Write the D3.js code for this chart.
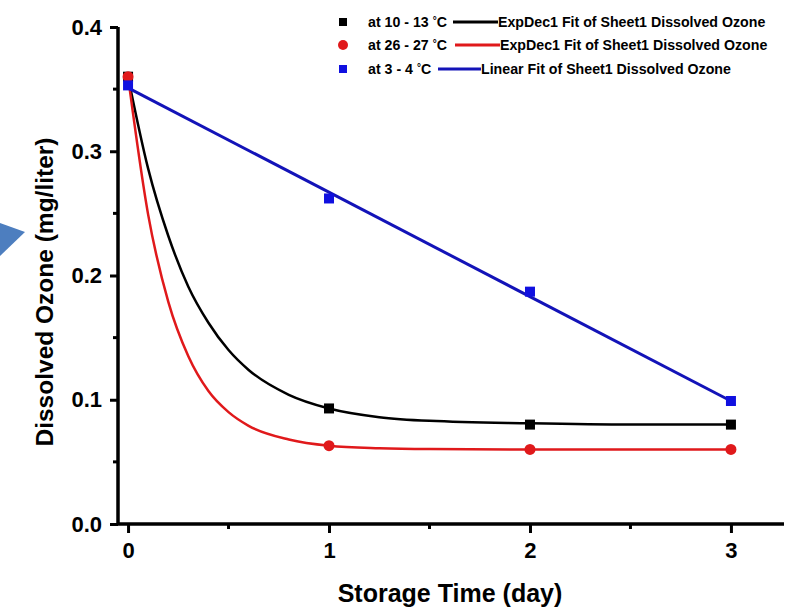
<!DOCTYPE html>
<html lang="en">
<head>
<meta charset="UTF-8">
<title>Dissolved Ozone</title>
<style>
  body { margin: 0; background: #fff; }
  text { font-family: "Liberation Sans", Arial, sans-serif; font-weight: bold; }
</style>
</head>
<body>
<svg></svg>
<script src="https://cdn.jsdelivr.net/npm/d3@7"></script>
<script>
// measured points
var days = [0, 1, 2, 3];
var ozone10to13 = [0.360, 0.093, 0.080, 0.080];
var ozone26to27 = [0.360, 0.063, 0.060, 0.060];
var ozone3to4 = [0.353, 0.262, 0.187, 0.099];

// fitted curves
var fitDays = [0, 0.1, 0.2, 0.3, 0.4, 0.5, 0.6, 0.8, 1.0, 1.25, 1.5, 2.0, 2.5, 3.0];
var fit10to13 = [0.360, 0.286, 0.232, 0.191, 0.162, 0.140, 0.124, 0.104, 0.093, 0.086, 0.083, 0.081, 0.080, 0.080];
var fit26to27 = [0.360, 0.249, 0.179, 0.135, 0.107, 0.090, 0.079, 0.068, 0.063, 0.061, 0.0603, 0.060, 0.060, 0.060];
var linDays = [0, 3];
var fit3to4 = [0.351, 0.099];

var xTicks = [0, 1, 2, 3];
var yTicks = [0.0, 0.1, 0.2, 0.3, 0.4];

var legendLabels = ["at 10 - 13 ", "at 26 - 27 ", "at 3 - 4 "];
var legendFits = ["ExpDec1 Fit of Sheet1 Dissolved Ozone", "ExpDec1 Fit of Sheet1 Dissolved Ozone", "Linear Fit of Sheet1 Dissolved Ozone"];

var width = 795, height = 614;
var svg = d3.select("svg").attr("width", width).attr("height", height);

var x = d3.scaleLinear().domain([-0.05, 3.264]).range([118, 784]);
var y = d3.scaleLinear().domain([0, 0.4]).range([524, 27]);

// blue arrow cut off at the left edge
svg.append("path")
  .attr("d", "M0,223 L25,232 L0,256 Z")
  .attr("fill", "#4d7ebf");

// axes
var xAxis = d3.axisBottom(x).tickValues(xTicks).tickSize(9).tickPadding(9).tickFormat(d3.format("d"));
var gx = svg.append("g").attr("transform", "translate(0,524)").call(xAxis);
gx.select(".domain").attr("d", "M118,0H784").attr("stroke-width", 3.5);
gx.selectAll(".tick line").attr("stroke-width", 3);
gx.selectAll(".tick text").attr("font-size", 22).attr("font-family", null);
gx.selectAll(".minor").data([0.5, 1.5, 2.5]).join("line")
  .attr("class", "minor")
  .attr("x1", d => x(d)).attr("x2", d => x(d))
  .attr("y1", 0).attr("y2", 5)
  .attr("stroke", "#000").attr("stroke-width", 3);

var yAxis = d3.axisLeft(y).tickValues(yTicks).tickSize(8).tickPadding(8).tickFormat(d3.format(".1f"));
var gy = svg.append("g").attr("transform", "translate(118,0)").call(yAxis);
gy.select(".domain").attr("d", "M0,27V525").attr("stroke-width", 3.5);
gy.selectAll(".tick line").attr("stroke-width", 3);
gy.selectAll(".tick text").attr("font-size", 22).attr("font-family", null);
gy.selectAll(".minor").data([0.05, 0.15, 0.25, 0.35]).join("line")
  .attr("class", "minor")
  .attr("x1", 0).attr("x2", -5)
  .attr("y1", d => y(d)).attr("y2", d => y(d))
  .attr("stroke", "#000").attr("stroke-width", 3);

svg.append("text")
  .attr("transform", "translate(53,292) rotate(-90)")
  .attr("text-anchor", "middle")
  .attr("font-size", 24.5)
  .text("Dissolved Ozone (mg/liter)");

svg.append("text")
  .attr("x", 450).attr("y", 602)
  .attr("text-anchor", "middle")
  .attr("font-size", 25)
  .text("Storage Time (day)");

// fit lines
var line = d3.line().x(d => x(d[0])).y(d => y(d[1])).curve(d3.curveMonotoneX);
var fits = [
  { xs: fitDays, ys: fit10to13, color: "#000000", w: 2.5 },
  { xs: fitDays, ys: fit26to27, color: "#e0191b", w: 2.5 },
  { xs: linDays, ys: fit3to4, color: "#1313b8", w: 3 }
];
fits.forEach(function (f) {
  svg.append("path")
    .datum(d3.zip(f.xs, f.ys))
    .attr("fill", "none")
    .attr("stroke", f.color)
    .attr("stroke-width", f.w)
    .attr("d", line);
});

// markers
svg.append("g").selectAll("rect")
  .data(d3.zip(days, ozone10to13))
  .join("rect")
  .attr("x", d => x(d[0]) - 5).attr("y", d => y(d[1]) - 5)
  .attr("width", 10).attr("height", 10)
  .attr("fill", "#000");

svg.append("g").selectAll("circle")
  .data(d3.zip(days, ozone26to27))
  .join("circle")
  .attr("cx", d => x(d[0])).attr("cy", d => y(d[1]))
  .attr("r", 5.5)
  .attr("fill", "#e0191b");

svg.append("g").selectAll("rect")
  .data(d3.zip(days, ozone3to4))
  .join("rect")
  .attr("x", d => x(d[0]) - 5).attr("y", d => y(d[1]) - 5)
  .attr("width", 10).attr("height", 10)
  .attr("fill", "#1010e0");

// legend
var legendRows = [
  { y: 22, color: "#000", line: "#000", marker: "square", x1: 453, x2: 498 },
  { y: 45, color: "#e0191b", line: "#e0191b", marker: "circle", x1: 455, x2: 500 },
  { y: 69, color: "#1010e0", line: "#1313b8", marker: "square", x1: 438, x2: 481 }
];
var legend = svg.append("g");
legendRows.forEach(function (r, i) {
  if (r.marker === "square") {
    legend.append("rect").attr("x", 339).attr("y", r.y - 4).attr("width", 8).attr("height", 8).attr("fill", r.color);
  } else {
    legend.append("circle").attr("cx", 343).attr("cy", r.y).attr("r", 5).attr("fill", r.color);
  }
  var t = legend.append("text").attr("x", 368).attr("y", r.y + 5).attr("font-size", 14.2);
  t.append("tspan").text(legendLabels[i]);
  t.append("tspan").attr("dy", -3).attr("font-size", 10).text("°");
  t.append("tspan").attr("dy", 3).text("C");
  legend.append("line")
    .attr("x1", r.x1).attr("x2", r.x2).attr("y1", r.y).attr("y2", r.y)
    .attr("stroke", r.line).attr("stroke-width", 3);
  legend.append("text").attr("x", r.x2).attr("y", r.y + 5).attr("font-size", 14.2)
    .text(legendFits[i]);
});
</script>
</body>
</html>
